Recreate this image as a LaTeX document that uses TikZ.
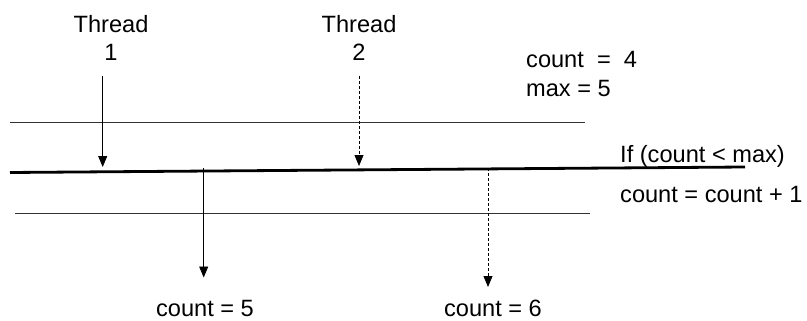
\documentclass[tikz,border=0pt]{standalone}
\usepackage{fontspec}
\setmainfont{Liberation Sans}
\usetikzlibrary{arrows.meta}
\begin{document}
\begin{tikzpicture}[x=1pt,y=-1pt,
  lbl/.style={inner sep=0pt, font=\fontsize{23.6}{28}\selectfont},
  thin/.style={line width=0.9pt, draw=black!80},
  thick/.style={line width=2.8pt, draw=black},
  arr/.style={line width=0.8pt, -{Triangle[width=9pt,length=11pt]}},
  darr/.style={arr, dash pattern=on 3pt off 2pt}]
\useasboundingbox (0,0) rectangle (807,321);
% labels
\node[lbl, align=center] (t1) at (111,37.5) {Thread\\1};
\node[lbl, align=center] (t2) at (359,37.5) {Thread\\2};
\node[lbl, anchor=base west] (c4) at (526,68) {count \ = \ 4};
\node[lbl, anchor=base west] (mx) at (526,97) {max = 5};
\node[lbl, anchor=base west] (if) at (620,163) {If (count < max)};
\node[lbl, anchor=base west] (inc) at (620,202) {count = count + 1};
\node[lbl, anchor=base] (c5) at (205,316.5) {count = 5};
\node[lbl, anchor=base] (c6) at (493,316.5) {count = 6};
% lines
\coordinate (topL) at (10,122);
\coordinate (topR) at (585,122);
\coordinate (thL) at (10,172.5);
\coordinate (thR) at (745,167);
\coordinate (botL) at (15,213.5);
\coordinate (botR) at (590,213.5);
\draw[thin] (topL) -- (topR);
\draw[thin] (botL) -- (botR);
\draw[thick] (thL) -- (thR);
% arrows
\coordinate (a1s) at (102.7,76);
\coordinate (a1e) at (102.7,167);
\coordinate (a2s) at (359,76);
\coordinate (a2e) at (359,166);
\coordinate (a3s) at (203.7,168);
\coordinate (a3e) at (203.7,277.5);
\coordinate (a4s) at (488,168);
\coordinate (a4e) at (488,287);
\draw[arr] (a1s) -- (a1e);
\draw[darr] (a2s) -- (a2e);
\draw[arr] (a3s) -- (a3e);
\draw[darr] (a4s) -- (a4e);
\end{tikzpicture}
\end{document}
